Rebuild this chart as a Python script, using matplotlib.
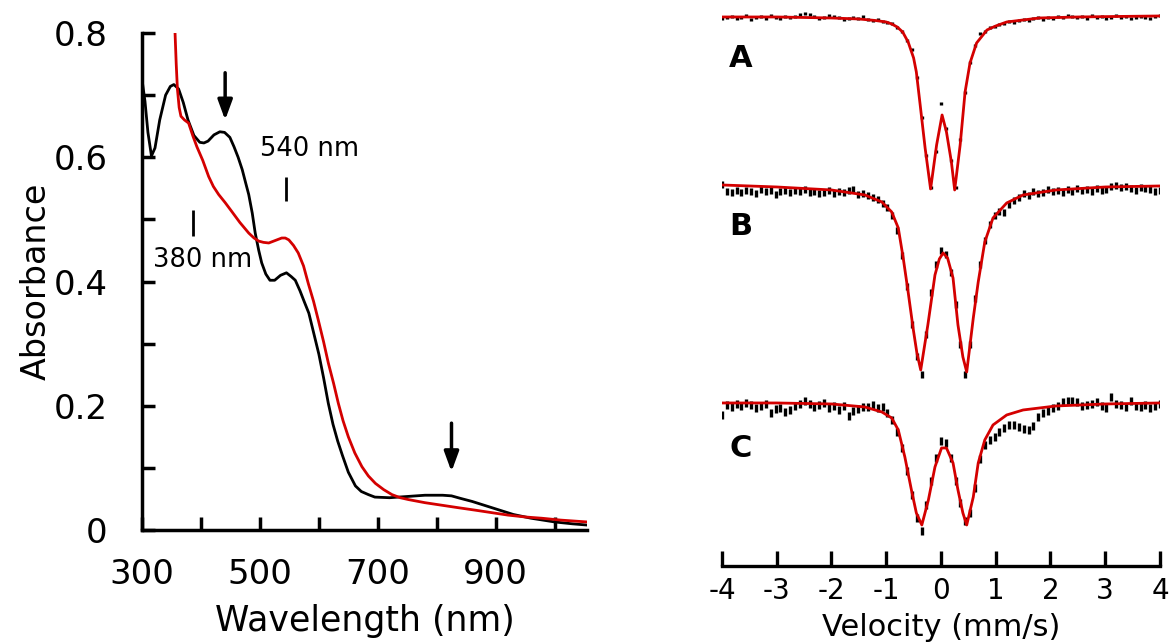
import numpy as np
import matplotlib.pyplot as plt

plt.rcParams['axes.unicode_minus'] = False
plt.rcParams['font.family'] = ['DejaVu Sans']

# ---- UV-vis spectra (left) ----
black_nm = [300, 305, 310, 316, 322, 330, 340, 348, 354, 362, 370, 378, 388, 398, 405, 412,
            422, 432, 440, 449, 456, 463, 470, 476, 481, 487, 492, 498, 503, 510, 517, 525,
            535, 545, 553, 560, 568, 575, 583, 591, 600, 608, 616, 624, 632, 640, 650, 662,
            672, 684, 695, 720, 750, 780, 810, 825, 840, 860, 880, 900, 930, 960, 1000, 1030, 1055]
black_abs = [0.725, 0.690, 0.640, 0.602, 0.615, 0.660, 0.700, 0.714, 0.717, 0.710, 0.688, 0.660,
             0.635, 0.624, 0.623, 0.626, 0.636, 0.641, 0.640, 0.632, 0.617, 0.600, 0.580, 0.558,
             0.540, 0.510, 0.478, 0.450, 0.430, 0.412, 0.402, 0.402, 0.410, 0.414, 0.408, 0.402,
             0.385, 0.368, 0.349, 0.318, 0.283, 0.245, 0.204, 0.170, 0.143, 0.120, 0.093, 0.071,
             0.062, 0.057, 0.053, 0.052, 0.054, 0.056, 0.056, 0.055, 0.051, 0.046, 0.040, 0.034,
             0.025, 0.019, 0.013, 0.010, 0.008]

red_nm = [356, 358, 360, 363, 366, 372, 379, 386, 393, 403, 413, 421, 430, 441, 452, 466, 481,
          490, 498, 506, 515, 526, 537, 543, 549, 557, 565, 574, 582, 591, 599, 608, 616, 625,
          633, 641, 650, 661, 673, 684, 696, 710, 724, 738, 752, 780, 808, 836, 865, 893, 921,
          950, 978, 1010, 1055]
red_abs = [0.800, 0.750, 0.710, 0.680, 0.666, 0.660, 0.655, 0.635, 0.617, 0.595, 0.569, 0.553,
           0.540, 0.527, 0.513, 0.495, 0.478, 0.470, 0.465, 0.463, 0.462, 0.466, 0.470, 0.470,
           0.467, 0.458, 0.446, 0.425, 0.397, 0.368, 0.338, 0.303, 0.269, 0.236, 0.204, 0.176,
           0.150, 0.124, 0.102, 0.087, 0.075, 0.065, 0.057, 0.052, 0.049, 0.044, 0.040, 0.036,
           0.032, 0.028, 0.024, 0.021, 0.019, 0.016, 0.013]

arrow_nm = [441, 825]
arrow_top = [0.736, 0.172]
arrow_tip = [0.660, 0.094]

band_labels = ['380 nm', '540 nm']
band_mark_nm = [386, 544]
band_mark_lo = [0.473, 0.529]
band_mark_hi = [0.515, 0.569]
band_text_xy = [(402, 0.435), (584, 0.613)]

# ---- Mossbauer spectra (right) ----
velocity = np.linspace(-4.0, 4.0, 91)

data_A = [0.03, 0.02, 0.01, 0.03, 0.02, 0.00, 0.04, 0.02, 0.01, 0.03,
          0.00, 0.02, 0.03, 0.01, 0.02, 0.01, -0.01, -0.02, -0.01, 0.01,
          0.03, 0.02, 0.00, 0.01, 0.02, 0.04, 0.03, 0.02, 0.03, 0.01,
          0.04, 0.05, 0.04, 0.06, 0.07, 0.08, 0.12, 0.16, 0.25, 0.34,
          0.62, 1.02, 1.40, 1.72, 1.36, 0.88, 1.13, 1.45, 1.72, 1.24,
          0.77, 0.47, 0.30, 0.18, 0.16, 0.12, 0.11, 0.09, 0.08, 0.06,
          0.07, 0.05, 0.04, 0.05, 0.03, 0.02, 0.04, 0.02, 0.03, 0.01,
          0.02, 0.00, 0.01, 0.02, 0.01, 0.03, 0.00, 0.02, 0.01, 0.03,
          0.02, 0.00, 0.02, 0.01, 0.03, 0.02, 0.01, 0.02, 0.03, 0.01, 0.00]

data_B = [0.00, 0.07, 0.08, 0.06, 0.08, 0.06, 0.07, 0.09, 0.05, 0.07,
          0.06, 0.10, 0.07, 0.06, 0.08, 0.06, 0.07, 0.05, 0.08, 0.07,
          0.09, 0.08, 0.06, 0.09, 0.07, 0.08, 0.06, 0.05, 0.10, 0.09,
          0.11, 0.13, 0.15, 0.19, 0.23, 0.31, 0.46, 0.71, 1.02, 1.40,
          1.72, 1.90, 1.50, 1.08, 0.80, 0.66, 0.70, 0.88, 1.20, 1.60,
          1.90, 1.60, 1.14, 0.80, 0.56, 0.40, 0.31, 0.27, 0.28, 0.20,
          0.16, 0.13, 0.09, 0.11, 0.07, 0.09, 0.08, 0.05, 0.07, 0.06,
          0.08, 0.05, 0.07, 0.04, 0.06, 0.05, 0.07, 0.04, 0.06, 0.05,
          0.02, 0.01, 0.03, 0.02, 0.04, 0.06, 0.03, 0.04, 0.05, 0.07, 0.06]

data_C = [0.12, 0.02, 0.04, 0.01, 0.03, 0.00, 0.02, 0.05, 0.03, 0.01,
          0.10, 0.06, 0.05, 0.09, 0.07, 0.03, 0.01, -0.02, 0.01, 0.04,
          0.02, 0.00, 0.05, 0.03, 0.07, 0.03, 0.13, 0.08, 0.06, 0.04,
          0.04, 0.02, 0.05, 0.04, 0.10, 0.17, 0.29, 0.45, 0.68, 0.92,
          1.15, 1.28, 1.02, 0.78, 0.55, 0.38, 0.40, 0.55, 0.78, 1.00,
          1.18, 1.10, 0.85, 0.56, 0.42, 0.37, 0.34, 0.29, 0.25, 0.22,
          0.22, 0.24, 0.26, 0.27, 0.23, 0.14, 0.10, 0.08, 0.05, 0.03,
          -0.01, -0.02, -0.02, -0.01, 0.03, 0.02, 0.01, -0.01, 0.03, 0.05,
          -0.06, 0.01, 0.02, 0.04, -0.02, 0.03, 0.04, 0.02, 0.05, 0.03, 0.01]

fit_A_v = [-4.0, -3.0, -2.0, -1.5, -1.2, -1.0, -0.9, -0.8, -0.7, -0.6, -0.5, -0.45, -0.38,
           -0.29, -0.19, -0.08, 0.02, 0.10, 0.19, 0.25, 0.35, 0.44, 0.53, 0.65, 0.84, 1.0,
           1.2, 1.5, 1.8, 2.5, 3.2, 4.0]
fit_A = [0.01, 0.01, 0.02, 0.03, 0.045, 0.06, 0.08, 0.11, 0.16, 0.26, 0.42, 0.56, 0.89,
         1.32, 1.73, 1.29, 0.99, 1.16, 1.46, 1.74, 1.29, 0.76, 0.47, 0.27, 0.14, 0.10,
         0.06, 0.04, 0.02, 0.01, 0.005, 0.0]

fit_B_v = [-4.0, -3.0, -2.0, -1.39, -1.08, -0.9, -0.78, -0.69, -0.6, -0.51, -0.44, -0.37,
           -0.24, -0.11, -0.03, 0.04, 0.12, 0.22, 0.31, 0.40, 0.47, 0.59, 0.68, 0.80, 0.95,
           1.2, 1.5, 2.1, 3.0, 4.0]
fit_B = [0.0, 0.02, 0.05, 0.10, 0.17, 0.27, 0.43, 0.73, 1.07, 1.43, 1.68, 1.85,
         1.40, 0.90, 0.74, 0.68, 0.73, 0.93, 1.40, 1.72, 1.87, 1.33, 0.97, 0.57, 0.33,
         0.18, 0.10, 0.05, 0.02, 0.01]

fit_C_v = [-4.0, -3.0, -2.0, -1.39, -1.08, -0.9, -0.78, -0.66, -0.54, -0.45, -0.35, -0.23,
           -0.11, 0.01, 0.10, 0.22, 0.31, 0.40, 0.47, 0.59, 0.68, 0.80, 0.95, 1.2, 1.5, 2.1,
           3.0, 4.0]
fit_C = [0.0, 0.0, 0.01, 0.04, 0.09, 0.15, 0.27, 0.54, 0.87, 1.10, 1.22, 0.97,
         0.64, 0.45, 0.45, 0.60, 0.87, 1.10, 1.22, 0.94, 0.60, 0.37, 0.22, 0.12, 0.07, 0.03,
         0.01, 0.0]

panel_names = ['A', 'B', 'C']
baselines = [0.0, -1.69, -3.87]
label_depth = [0.43, 0.42, 0.46]
bar_half = [0.015, 0.035, 0.04]

fig = plt.figure(figsize=(11.69, 6.43), dpi=100)

# left panel
ax1 = fig.add_axes([0.1215, 0.1757, 0.3807, 0.773])
ax1.plot(black_nm, black_abs, color='black', lw=2.0, zorder=3)
ax1.plot(red_nm, red_abs, color='#d40000', lw=2.0, zorder=4)

for x, y0, y1 in zip(arrow_nm, arrow_top, arrow_tip):
    ax1.annotate('', xy=(x, y1), xytext=(x, y0),
                 arrowprops=dict(arrowstyle='-|>,head_length=0.6,head_width=0.22',
                                 color='black', lw=2.5, mutation_scale=20,
                                 shrinkA=0, shrinkB=0))

ax1.vlines(band_mark_nm, band_mark_lo, band_mark_hi, color='black', lw=2.0)
for txt, (x, y) in zip(band_labels, band_text_xy):
    ax1.text(x, y, txt, fontsize=18.5, ha='center', va='center')

ax1.set_xlim(300, 1055)
ax1.set_ylim(0, 0.8)
ax1.set_xticks([300, 400, 500, 600, 700, 800, 900, 1000])
ax1.set_xticklabels(['300', '', '500', '', '700', '', '900', ''])
ax1.set_yticks([0, 0.1, 0.2, 0.3, 0.4, 0.5, 0.6, 0.7, 0.8])
ax1.set_yticklabels(['0', '', '0.2', '', '0.4', '', '0.6', '', '0.8'])
ax1.tick_params(direction='in', length=9.5, width=2.5, labelsize=24.5)
ax1.tick_params(axis='x', pad=20)
ax1.tick_params(axis='y', pad=25)
for s in ['top', 'right']:
    ax1.spines[s].set_visible(False)
for s in ['left', 'bottom']:
    ax1.spines[s].set_linewidth(2.5)
ax1.set_xlabel('Wavelength (nm)', fontsize=25)
ax1.xaxis.set_label_coords(0.5, -0.148)
ax1.set_ylabel('Absorbance', fontsize=24)
ax1.yaxis.set_label_coords(-0.2, 0.5)

# right panel
ax2 = fig.add_axes([0.6176, 0.1198, 0.3747, 0.8709])
for name, base, ld, bh, dat, fv, fy in zip(panel_names, baselines, label_depth, bar_half,
                                           [data_A, data_B, data_C],
                                           [fit_A_v, fit_B_v, fit_C_v],
                                           [fit_A, fit_B, fit_C]):
    yd = base - np.array(dat)
    ax2.errorbar(velocity, yd, yerr=bh, fmt='none', ecolor='black', elinewidth=2.4,
                 capsize=0, zorder=2)
    ax2.plot(fv, base - np.array(fy), color='#d40000', lw=2.0, zorder=3)
    ax2.text(-3.87, base - ld, name, fontsize=22, fontweight='bold', ha='left', va='center')

ax2.set_xlim(-4, 4)
ax2.set_ylim(-5.50, 0.10)
ax2.set_xticks(np.arange(-4, 5, 1))
ax2.set_yticks([])
for s in ['top', 'right', 'left']:
    ax2.spines[s].set_visible(False)
ax2.spines['bottom'].set_linewidth(2.4)
ax2.tick_params(axis='x', direction='in', length=11, width=2.4, labelsize=20, pad=8)
ax2.set_xlabel('Velocity (mm/s)', fontsize=22)
ax2.xaxis.set_label_coords(0.5, -0.084)

fig.savefig('out.png', dpi=100)
